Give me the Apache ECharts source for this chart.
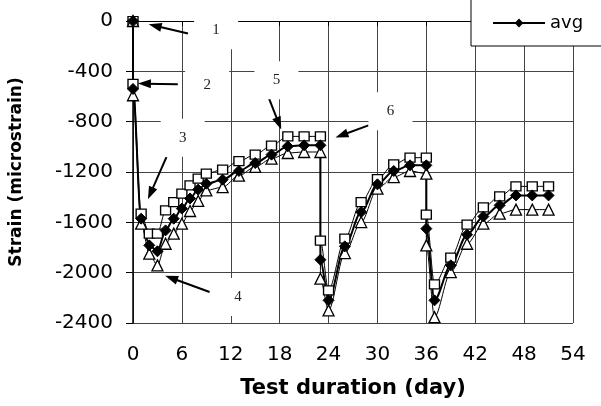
<!DOCTYPE html>
<html>
<head>
    <meta charset="utf-8">
    <style>
        html, body { width: 100%; height: 100%; margin: 0; background: #fff; }
        #chart-panel { width: 601px; height: 406px; }
    </style>
    <script src="https://cdn.jsdelivr.net/npm/echarts@6/dist/echarts.min.js"></script>
</head>
<body>
<div id="chart-panel"></div>
<script type="text/javascript">

  // test day of every reading (0 and 23 and 36 appear twice: before / after the step)
  var days = [0, 0, 1, 2, 3, 4, 5, 6, 7, 8, 9, 11, 13, 15, 17, 19, 21, 23,
              23, 24, 26, 28, 30, 32, 34, 36,
              36, 37, 39, 41, 43, 45, 47, 49, 51];

  // strain readings (microstrain)
  var maxStrain = [0, -500, -1531, -1690, -1690, -1505, -1439, -1372, -1306, -1253, -1213, -1181, -1113, -1062, -990, -917, -917, -917,
                   -1745, -2141, -1730, -1439, -1257, -1139, -1086, -1086,
                   -1539, -2093, -1881, -1619, -1482, -1394, -1314, -1314, -1314];
  var avgStrain = [0, -540, -1571, -1783, -1830, -1664, -1571, -1491, -1410, -1340, -1293, -1261, -1192, -1129, -1062, -996, -988, -988,
                   -1897, -2220, -1791, -1518, -1298, -1192, -1147, -1147,
                   -1650, -2220, -1942, -1698, -1554, -1465, -1386, -1386, -1386];
  var minStrain = [0, -590, -1611, -1849, -1942, -1770, -1690, -1611, -1510, -1430, -1346, -1320, -1229, -1159, -1094, -1049, -1041, -1041,
                   -2048, -2300, -1844, -1598, -1332, -1240, -1192, -1213,
                   -1783, -2353, -1995, -1770, -1611, -1531, -1499, -1499, -1499];

  var noteLabels = ['1', '2', '3', '4', '5', '6'];

  function pairs(ys) {
    return days.map(function (d, i) { return [d, ys[i]]; });
  }

  var myChart = echarts.init(document.getElementById('chart-panel'));

  var option = {
    animation: false,
    backgroundColor: '#fff',
    textStyle: { fontFamily: 'DejaVu Sans', color: '#000' },
    legend: {
      data: ['avg'],
      left: 471,
      top: -12,
      padding: [26, 30, 14, 21],
      borderColor: '#000',
      borderWidth: 1,
      backgroundColor: '#fff',
      itemWidth: 52,
      itemHeight: 11,
      itemGap: 6,
      textStyle: { fontSize: 18, color: '#000', fontFamily: 'DejaVu Sans' }
    },
    grid: { left: 133, right: 28, top: 21, bottom: 83 },
    xAxis: {
      type: 'value',
      min: 0, max: 54, interval: 6,
      name: 'Test duration (day)',
      nameLocation: 'middle',
      nameGap: 55,
      nameTextStyle: { fontSize: 21, fontWeight: 'bold', color: '#000' },
      axisLine: { lineStyle: { color: '#000', width: 1 } },
      axisTick: { length: 5, lineStyle: { color: '#000' } },
      axisLabel: { fontSize: 20, color: '#000', margin: 22 },
      splitLine: { show: true, lineStyle: { color: '#444', width: 1 } }
    },
    yAxis: {
      type: 'value',
      min: -2400, max: 0, interval: 400,
      name: 'Strain (microstrain)',
      nameLocation: 'middle',
      nameGap: 108,
      nameTextStyle: { fontSize: 17, fontWeight: 'bold', color: '#000' },
      axisLine: { show: true, lineStyle: { color: '#000', width: 1.5 } },
      axisTick: { show: true, length: 7, lineStyle: { color: '#000' } },
      axisLabel: {
        fontSize: 20, color: '#000', margin: 20,
        formatter: function (v) { return String(v); }
      },
      splitLine: { show: true, lineStyle: { color: '#444', width: 1 } }
    },
    series: [{
      name: 'max',
      type: 'line',
      data: pairs(maxStrain),
      smooth: 0.3,
      smoothMonotone: 'x',
      symbol: 'rect',
      symbolSize: [10, 9],
      showAllSymbol: true,
      lineStyle: { color: '#000', width: 1 },
      itemStyle: { color: '#fff', borderColor: '#000', borderWidth: 1.3 }
    }, {
      name: 'min',
      type: 'line',
      data: pairs(minStrain),
      smooth: 0.3,
      smoothMonotone: 'x',
      symbol: 'triangle',
      symbolSize: [11, 11],
      showAllSymbol: true,
      lineStyle: { color: '#000', width: 1 },
      itemStyle: { color: '#fff', borderColor: '#000', borderWidth: 1.3 }
    }, {
      name: 'avg',
      type: 'line',
      data: pairs(avgStrain),
      smooth: 0.3,
      smoothMonotone: 'x',
      symbol: 'diamond',
      symbolSize: 11,
      showAllSymbol: true,
      lineStyle: { color: '#000', width: 2 },
      itemStyle: { color: '#000', borderColor: '#000' },
      // white note boxes with the numbers
      markPoint: {
        silent: true,
        symbol: 'rect',
        symbolSize: [44, 38],
        itemStyle: { color: '#fff' },
        label: {
          show: true, position: 'inside', color: '#222',
          fontFamily: 'Liberation Serif', fontSize: 15,
          formatter: function (p) { return p.name; }
        },
        data: [
          { name: noteLabels[0], coord: [10.2, -74] },
          { name: noteLabels[1], coord: [9.1, -506] },
          { name: noteLabels[2], coord: [6.1, -927] },
          { name: noteLabels[3], coord: [12.9, -2194] },
          { name: noteLabels[4], coord: [17.6, -471] },
          { name: noteLabels[5], coord: [31.6, -718] }
        ]
      },
      // pointer arrows
      markLine: {
        silent: true,
        symbol: ['none', 'triangle'],
        symbolSize: [9, 13],
        label: { show: false },
        lineStyle: { color: '#000', width: 2, type: 'solid' },
        data: [
          [{ coord: [6.75, -100] }, { coord: [2.7, -38] }],
          [{ coord: [5.5, -503] }, { coord: [1.4, -498] }],
          [{ coord: [4.1, -1081] }, { coord: [2.15, -1370] }],
          [{ coord: [9.4, -2154] }, { coord: [4.7, -2042] }],
          [{ coord: [16.7, -617] }, { coord: [17.9, -815] }],
          [{ coord: [28.9, -829] }, { coord: [25.6, -908] }]
        ]
      }
    }]
  };

  myChart.setOption(option);
</script>
</body>
</html>
